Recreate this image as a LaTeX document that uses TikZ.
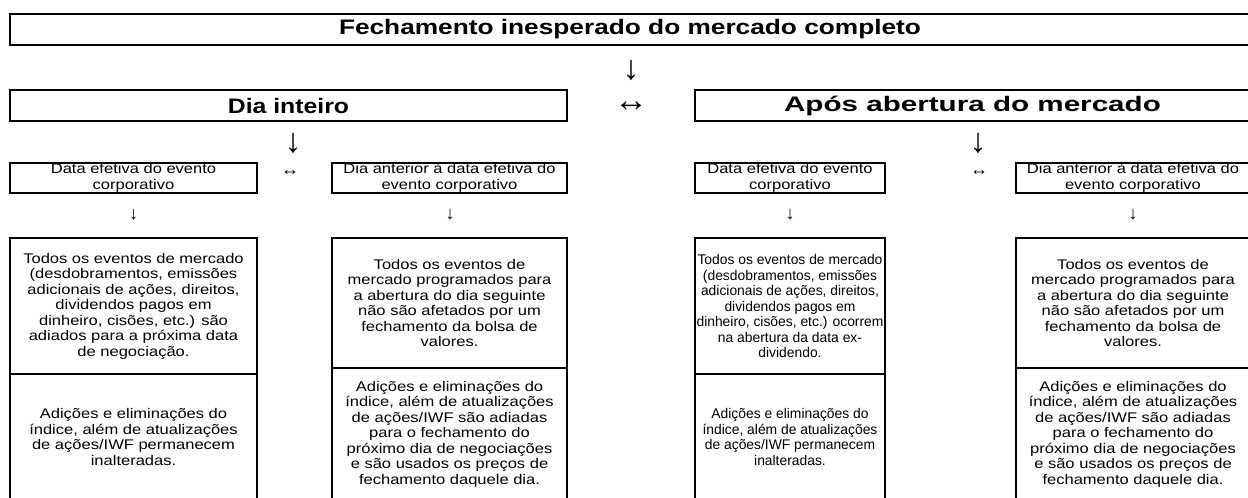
\documentclass[tikz,border=0pt]{standalone}
\usepackage{fontspec}
\setmainfont{Liberation Sans}[FakeStretch=1.18]
\newfontfamily\narrowfont{Liberation Sans}[FakeStretch=0.99]
\newfontfamily\titlefont{Liberation Sans}[FakeStretch=1.25]
\newfontfamily\aposfont{Liberation Sans}[FakeStretch=1.41]
\newfontfamily\glyphfont{Liberation Sans}
\usetikzlibrary{positioning}

\newcommand{\bodysize}{\fontsize{14}{15.5}\selectfont}
\newcommand{\headsize}{\fontsize{21}{24}\selectfont\bfseries}

\begin{document}
\begin{tikzpicture}[x=1pt,y=-1pt,
  box/.style={draw,line width=2.6pt,align=center,inner sep=0pt,font=\bodysize},
  narrow box/.style={box,font=\bodysize\narrowfont},
  head box/.style={box,font=\headsize},
  big glyph/.style={inner sep=0pt,font=\glyphfont\fontsize{34}{34}\selectfont},
  small glyph/.style={inner sep=0pt,font=\glyphfont\fontsize{18}{18}\selectfont}]
  \useasboundingbox (0,0) rectangle (1248,498);
  \clip (0,0) rectangle (1248,498);

  % main headings
  \node[head box,minimum width=1240,minimum height=31,font=\headsize\titlefont] (fecha) at (630,29.5) {Fechamento inesperado do mercado completo};
  \node[big glyph] (fechadown) at (631,70) {↓};
  \node[head box,minimum width=557,minimum height=31] (dia) at (288.5,105.5) {Dia inteiro};
  \node[big glyph] (diaor) at (631,107) {↔};
  \node[head box,minimum width=555,minimum height=31,font=\headsize\aposfont] (apos) at (972.5,105.5) {Após abertura do mercado};
  \node[big glyph] (diadown) at (293,143) {↓};
  \node[big glyph] (aposdown) at (978,143) {↓};

  % dia inteiro
  \node[box,minimum width=247,minimum height=30] (diadata) at (133.5,178) {Data efetiva do evento\\corporativo};
  \node[small glyph] (diaor2) at (290,173) {↔};
  \node[box,minimum width=235,minimum height=30] (diaant) at (449.5,178) {Dia anterior à data efetiva do\\evento corporativo};
  \node[small glyph] (diadatadown) at (133.5,215) {↓};
  \node[small glyph] (diaantdown) at (450,215) {↓};
  \node[box,minimum width=247,minimum height=136] (diadatamerc) at (133.5,306) {Todos os eventos de mercado\\(desdobramentos, emissões\\adicionais de ações, direitos,\\dividendos pagos em\\dinheiro, cisões, etc.) são\\adiados para a próxima data\\de negociação.};
  \node[box,minimum width=247,minimum height=126] (diadataind) at (133.5,437) {Adições e eliminações do\\índice, além de atualizações\\de ações/IWF permanecem\\inalteradas.};
  \node[box,minimum width=235,minimum height=130] (diaantmerc) at (449.5,303) {Todos os eventos de\\mercado programados para\\a abertura do dia seguinte\\não são afetados por um\\fechamento da bolsa de\\valores.};
  \node[box,minimum width=235,minimum height=132] (diaantind) at (449.5,434) {Adições e eliminações do\\índice, além de atualizações\\de ações/IWF são adiadas\\para o fechamento do\\próximo dia de negociações\\e são usados os preços de\\fechamento daquele dia.};

  % apos abertura
  \node[box,minimum width=190,minimum height=30] (aposdata) at (790,178) {Data efetiva do evento\\corporativo};
  \node[small glyph] (aposor) at (979,173) {↔};
  \node[box,minimum width=234,minimum height=30] (aposant) at (1133,178) {Dia anterior à data efetiva do\\evento corporativo};
  \node[small glyph] (aposdatadown) at (790,215) {↓};
  \node[small glyph] (aposantdown) at (1133,215) {↓};
  \node[narrow box,minimum width=190,minimum height=136] (aposdatamerc) at (790,306) {Todos os eventos de mercado\\(desdobramentos, emissões\\adicionais de ações, direitos,\\dividendos pagos em\\dinheiro, cisões, etc.) ocorrem\\na abertura da data ex-\\dividendo.};
  \node[narrow box,minimum width=190,minimum height=126] (aposdataind) at (790,437) {Adições e eliminações do\\índice, além de atualizações\\de ações/IWF permanecem\\inalteradas.};
  \node[box,minimum width=234,minimum height=130] (aposantmerc) at (1133,303) {Todos os eventos de\\mercado programados para\\a abertura do dia seguinte\\não são afetados por um\\fechamento da bolsa de\\valores.};
  \node[box,minimum width=234,minimum height=132] (aposantind) at (1133,434) {Adições e eliminações do\\índice, além de atualizações\\de ações/IWF são adiadas\\para o fechamento do\\próximo dia de negociações\\e são usados os preços de\\fechamento daquele dia.};
\end{tikzpicture}
\end{document}
